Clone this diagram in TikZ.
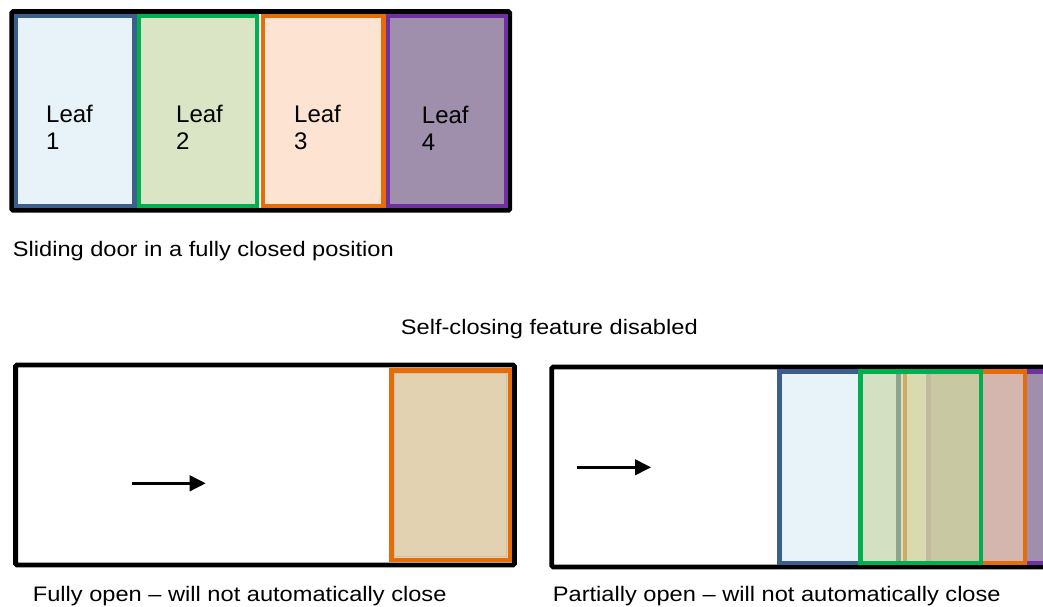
\documentclass[tikz,border=0pt]{standalone}
\usepackage{fontspec}
\setmainfont{Liberation Sans}
\newfontfamily\capfont[FakeStretch=1.125]{Liberation Sans}
\usetikzlibrary{arrows.meta}
\definecolor{blueB}{HTML}{3B5E8C}
\definecolor{blueF}{HTML}{E8F3F9}
\definecolor{greenB}{HTML}{00B050}
\definecolor{greenF}{HTML}{D9E5C4}
\definecolor{orangeB}{HTML}{E46C0A}
\definecolor{orangeF}{HTML}{FDE4D2}
\definecolor{purpleB}{HTML}{7030A0}
\definecolor{purpleF}{HTML}{9F8FAD}
\definecolor{tanF}{HTML}{E3D2B1}
\definecolor{tanL}{HTML}{D2C2A3}
\definecolor{mixGB}{HTML}{D3E0C2}
\definecolor{mixBB}{HTML}{8CA58F}
\definecolor{mixOB}{HTML}{D4A965}
\definecolor{mixGO}{HTML}{D8DBAF}
\definecolor{mixPB}{HTML}{C2BA9C}
\definecolor{mixGOP}{HTML}{C8C9A2}
\definecolor{mixOP}{HTML}{D5B6AE}
\tikzset{
  frame/.style={draw=black, line width=4.8pt, rounded corners=1.5pt},
  leafbox/.style={line width=4.4pt},
  leaftext/.style={font=\fontsize{24}{26.7}\selectfont, align=left, anchor=north west, inner sep=0pt},
  caption/.style={font=\capfont\fontsize{21}{24}\selectfont, anchor=base west, inner sep=0pt},
  movearrow/.style={line width=2.7pt, -{Triangle[length=16pt,width=15.5pt]}},
}
\begin{document}
\begin{tikzpicture}[x=1pt,y=-1pt]
\useasboundingbox (0,0) rectangle (1043,606);
\fill[white] (0,0) rectangle (1043,606);

% ---------- top: fully closed ----------
\draw[frame] (11.7,11.5) rectangle (509.8,210.3);
\draw[leafbox, draw=blueB, fill=blueF] (16.2,16.2) rectangle (134.5,206.1);
\draw[leafbox, draw=greenB, fill=greenF] (138.9,16.2) rectangle (257.1,206.1);
\draw[leafbox, draw=orangeB, fill=orangeF] (263.0,16.2) rectangle (383.5,206.1);
\draw[leafbox, draw=purpleB, fill=purpleF] (387.9,16.2) rectangle (505.8,206.1);
\node[leaftext] (l1) at (46,105.2) {Leaf\\1};
\node[leaftext] (l2) at (176,105.2) {Leaf\\2};
\node[leaftext] (l3) at (294,105.2) {Leaf\\3};
\node[leaftext] (l4) at (421.7,105.8) {Leaf\\4};
\node[caption] (c1) at (12.7,256) {Sliding door in a fully closed position};

\node[caption] (c2) at (400.7,334) {Self-closing feature disabled};

% ---------- bottom left: fully open ----------
\draw[frame] (15.6,365) rectangle (514.5,565);
\fill[tanF] (391.3,370.3) rectangle (509.8,559.8);
\draw[tanL, line width=1pt] (394.8,373.8) rectangle (506.3,556.3);
\draw[leafbox, draw=orangeB] (391.3,370.3) rectangle (509.8,559.8);
\coordinate (a1s) at (132,483.3);
\coordinate (a1e) at (205.7,483.3);
\draw[movearrow] (a1s) -- (a1e);
\node[caption] (c3) at (32.7,601) {Fully open – will not automatically close};

% ---------- bottom right: partially open ----------
\draw[frame] (1075,367) -- (551.7,367) -- (551.7,567) -- (1075,567);
\draw[leafbox, draw=purpleB, fill=purpleF] (928.3,371.3) rectangle (1080,562.8);
\draw[leafbox, draw=orangeB, fill=mixOP] (904.8,371.3) rectangle (1024.8,562.8);
\draw[leafbox, draw=blueB, fill=blueF] (779.3,371.3) rectangle (898.8,562.8);
\fill[mixGB] (860.3,371.3) rectangle (980.8,562.8);
\fill[mixBB] (896,373.5) rectangle (901,560.5);
\fill[mixOB] (903,373.5) rectangle (907,560.5);
\fill[mixGO] (907,373.5) rectangle (926,560.5);
\fill[mixPB] (926,373.5) rectangle (931,560.5);
\fill[mixGOP] (931,373.5) rectangle (978.5,560.5);
\draw[leafbox, draw=greenB] (860.3,371.3) rectangle (980.8,562.8);
\coordinate (a2s) at (576.7,467.3);
\coordinate (a2e) at (651,467.3);
\draw[movearrow] (a2s) -- (a2e);
\node[caption] (c4) at (552.7,601) {Partially open – will not automatically close};
\end{tikzpicture}
\end{document}
